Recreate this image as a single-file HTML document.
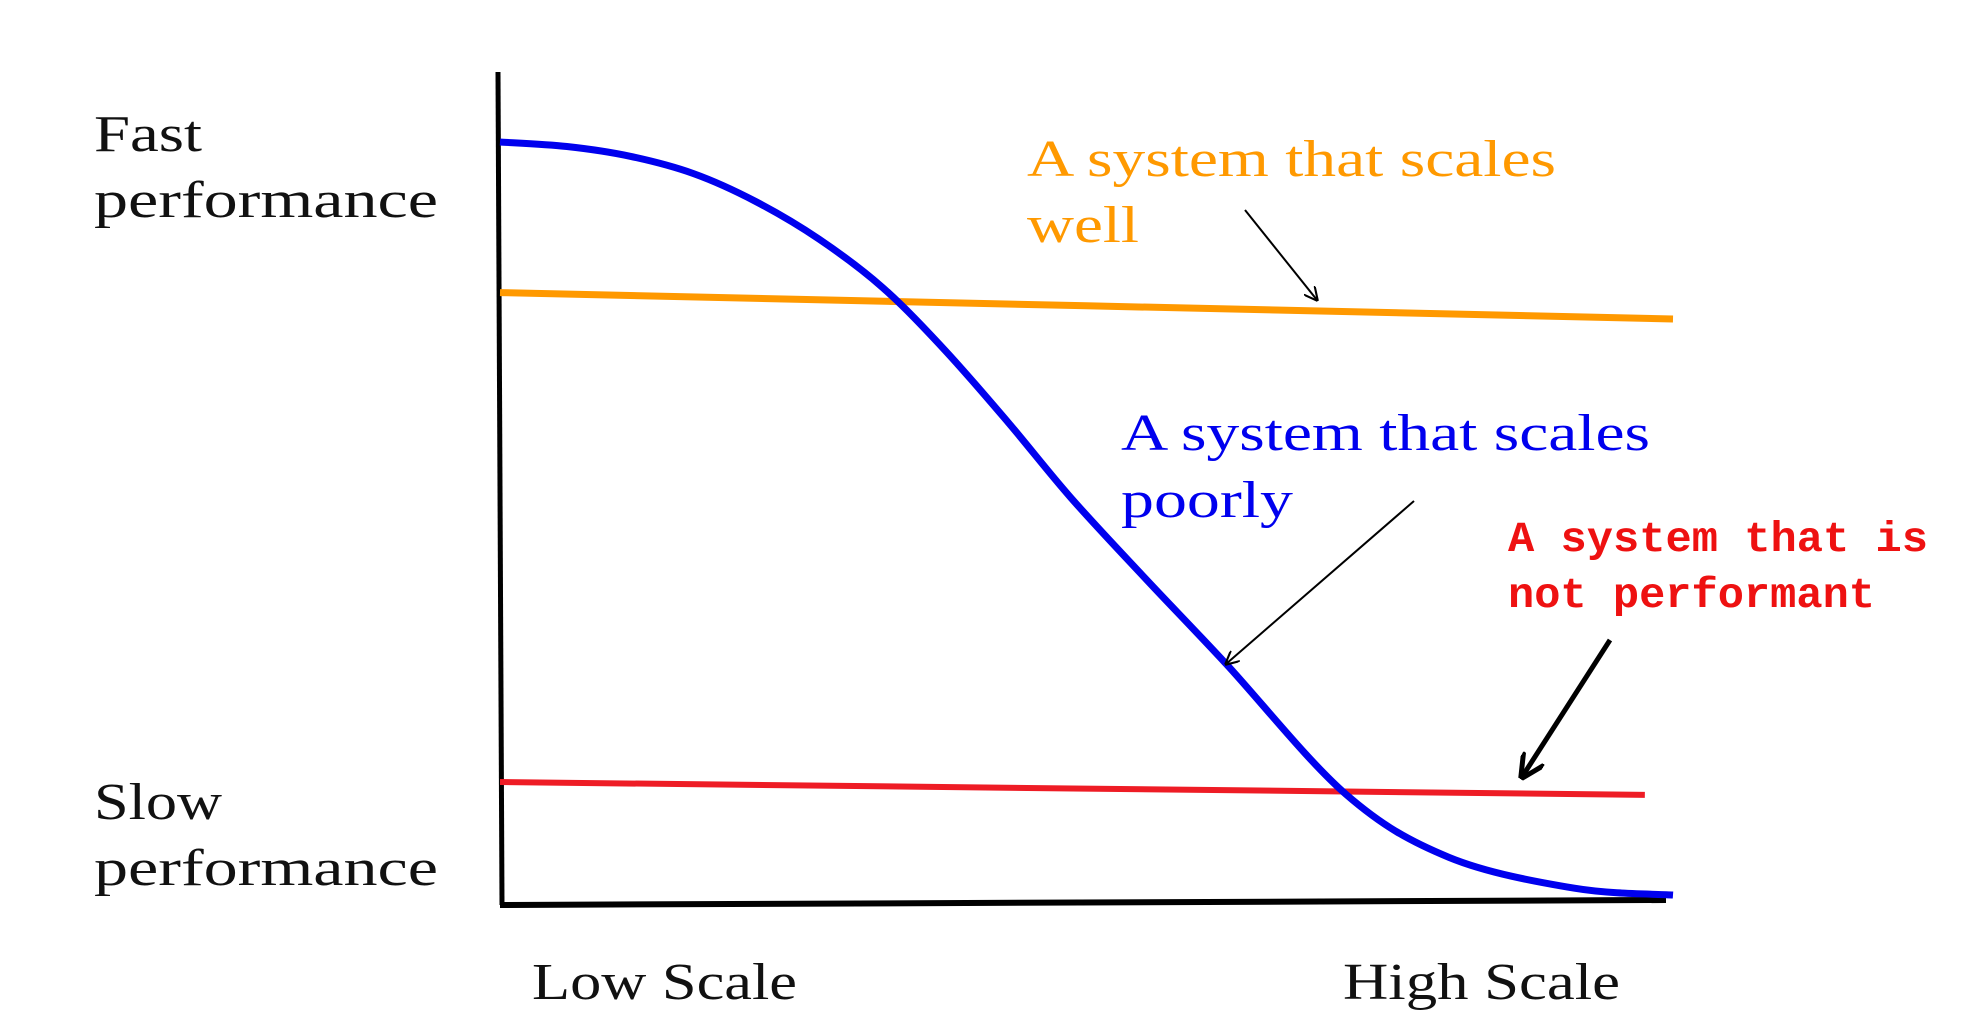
<!DOCTYPE html>
<html><head><meta charset="utf-8"><style>
html,body{margin:0;padding:0;background:#fff;width:1969px;height:1023px;overflow:hidden}
svg{display:block}
text{font-family:"Liberation Serif",serif}
</style></head><body>
<svg id="chart" width="1969" height="1023" viewBox="0 0 1969 1023">
<defs>
<marker id="ah" viewBox="0 0 10 10" refX="9" refY="5" markerWidth="7" markerHeight="7" orient="auto"><path d="M0,0 L10,5 L0,10" fill="none" stroke="#000" stroke-width="1.5"/></marker>
<marker id="ah2" viewBox="0 0 10 10" refX="9" refY="5" markerWidth="5" markerHeight="5" orient="auto"><path d="M0,0 L10,5 L0,10" fill="none" stroke="#000" stroke-width="2"/></marker>
</defs>
<g id="axes">
<line x1="498" y1="72" x2="502" y2="905" stroke="#000" stroke-width="5"/>
<line x1="500" y1="905" x2="1666" y2="900" stroke="#000" stroke-width="6"/>
</g>
<g id="series"></g>
<g font-size="52" fill="#111">
<text x="94" y="151" textLength="108" lengthAdjust="spacingAndGlyphs">Fast</text>
<text x="94" y="217" textLength="344" lengthAdjust="spacingAndGlyphs">performance</text>
<text x="94" y="819" textLength="128" lengthAdjust="spacingAndGlyphs">Slow</text>
<text x="94" y="885" textLength="344" lengthAdjust="spacingAndGlyphs">performance</text>
<text x="532" y="999" textLength="265" lengthAdjust="spacingAndGlyphs">Low Scale</text>
<text x="1343" y="999" textLength="277" lengthAdjust="spacingAndGlyphs">High Scale</text>
</g>
<g font-size="52" fill="#ff9900">
<text x="1027" y="176" textLength="529" lengthAdjust="spacingAndGlyphs">A system that scales</text>
<text x="1027" y="242" textLength="112" lengthAdjust="spacingAndGlyphs">well</text>
</g>
<g font-size="52" fill="#0000ee">
<text x="1121" y="450" textLength="529" lengthAdjust="spacingAndGlyphs">A system that scales</text>
<text x="1121" y="517" textLength="172" lengthAdjust="spacingAndGlyphs">poorly</text>
</g>
<g font-size="43" fill="#ee1111" font-weight="bold">
<text x="1508" y="551" textLength="420" lengthAdjust="spacingAndGlyphs" style="font-family:'Liberation Mono',monospace">A system that is</text>
<text x="1508" y="607" textLength="367" lengthAdjust="spacingAndGlyphs" style="font-family:'Liberation Mono',monospace">not performant</text>
</g>
<line x1="1245" y1="210" x2="1317" y2="300" stroke="#000" stroke-width="2" marker-end="url(#ah)"/>
<line x1="1414" y1="501" x2="1226" y2="664" stroke="#000" stroke-width="2" marker-end="url(#ah)"/>
<line x1="1610" y1="640" x2="1522" y2="777" stroke="#000" stroke-width="5" marker-end="url(#ah2)"/>
</svg>
<script>
// x: scale fraction 0..1 ; y: performance 0 (slow) .. 100 (fast)
const scaleX = [0, 0.057, 0.111, 0.165, 0.218, 0.272, 0.326, 0.379, 0.433, 0.487, 0.551, 0.619, 0.721, 0.809, 0.916, 1];
const poorPerf = [100, 99.4, 98.1, 95.8, 92.1, 87.1, 80.7, 72.4, 62.8, 52.7, 41.9, 30.7, 13.4, 5.0, 0.9, 0];
const wellX = [0, 1];
const wellPerf = [80, 76.5];
const slowX = [0, 0.976];
const slowPerf = [15, 13.3];

const X0 = 500, X1 = 1673, Y100 = 142, Y0 = 895;
function xs(v){ return X0 + v*(X1-X0); }
function ys(v){ return Y0 - v/100*(Y0-Y100); }

function smoothPath(xa, ya){
  const p = xa.map((x,i)=>[xs(x), ys(ya[i])]);
  let d = 'M'+p[0][0]+','+p[0][1];
  for(let i=0;i<p.length-1;i++){
    const p0=p[Math.max(i-1,0)], p1=p[i], p2=p[i+1], p3=p[Math.min(i+2,p.length-1)];
    const c1=[p1[0]+(p2[0]-p0[0])/6, p1[1]+(p2[1]-p0[1])/6];
    const c2=[p2[0]-(p3[0]-p1[0])/6, p2[1]-(p3[1]-p1[1])/6];
    d+=' C'+c1+' '+c2+' '+p2;
  }
  return d;
}
const g = document.getElementById('series');
function addLine(xa, ya, color, w, name){
  const el = document.createElementNS('http://www.w3.org/2000/svg','path');
  el.setAttribute('d', smoothPath(xa, ya));
  el.setAttribute('fill','none');
  el.setAttribute('stroke',color);
  el.setAttribute('stroke-width',w);
  el.setAttribute('stroke-linejoin','round');
  
  
  g.appendChild(el);
}
addLine(wellX, wellPerf, '#ff9900', 7, 'line-scales-well');
addLine(slowX, slowPerf, '#ee1c25', 6, 'line-not-performant');
addLine(scaleX, poorPerf, '#0000ee', 7, 'line-scales-poorly');
</script>
</body></html>
